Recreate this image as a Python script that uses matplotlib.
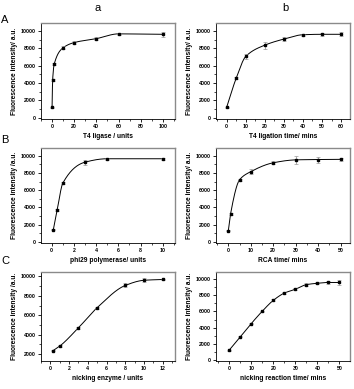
import numpy as np
import matplotlib
matplotlib.use('Agg')
import matplotlib.pyplot as plt
from matplotlib.ticker import AutoMinorLocator

plt.rcParams['font.family'] = ['Liberation Sans', 'DejaVu Sans']

# ---- data ----
# A-a: T4 ligase
lig_units = [0, 0.5, 2, 10, 20, 40, 60, 100]
lig_units_fl = [1200, 4300, 6200, 8050, 8650, 9100, 9650, 9600]
lig_units_err = [80, 100, 150, 150, 150, 150, 150, 300]
# A-b: T4 ligation time
lig_time = [0, 5, 10, 20, 30, 40, 50, 60]
lig_time_fl = [1200, 4550, 7050, 8350, 9050, 9550, 9600, 9600]
lig_time_err = [80, 150, 300, 400, 250, 100, 150, 250]
# B-a: phi29 polymerase
phi_units = [0.15, 0.5, 1, 3, 5, 10]
phi_units_fl = [1400, 3700, 6800, 9250, 9650, 9650]
phi_units_err = [80, 100, 120, 300, 120, 100]
# B-b: RCA time
rca_time = [0, 1, 5, 10, 20, 30, 40, 50]
rca_time_fl = [1300, 3250, 7200, 8150, 9180, 9520, 9560, 9580]
rca_time_err = [80, 100, 120, 250, 150, 450, 350, 150]
# C-a: nicking enzyme
nick_units = [0.25, 1, 3, 5, 8, 10, 12]
nick_units_fl = [2340, 2830, 4720, 6790, 9070, 9600, 9680]
nick_units_err = [60, 80, 80, 100, 200, 200, 100]
# C-b: nicking reaction time
nick_time = [0, 5, 10, 15, 20, 25, 30, 35, 40, 45, 50]
nick_time_fl = [1200, 2850, 4500, 6030, 7380, 8280, 8760, 9330, 9500, 9600, 9600]
nick_time_err = [60, 80, 80, 80, 120, 120, 150, 150, 150, 200, 300]

panels = [
    (lig_units, lig_units_fl, lig_units_err, 'T4 ligase / units', 'Fluorescence intensity/ a.u.',
     (-10, 111), (-150, 10900), [0, 20, 40, 60, 80, 100]),
    (lig_time, lig_time_fl, lig_time_err, 'T4 ligation time/ mins', 'Fluorescence intensity/ a.u.',
     (-5.6, 64.7), (-150, 10900), [0, 10, 20, 30, 40, 50, 60]),
    (phi_units, phi_units_fl, phi_units_err, 'phi29 polymerase/ units', 'Fluorescence intensity /a.u.',
     (-0.96, 11.1), (-150, 10900), [0, 2, 4, 6, 8, 10]),
    (rca_time, rca_time_fl, rca_time_err, 'RCA time/ mins', 'Fluorescence intensity/ a.u.',
     (-5.5, 54.2), (-150, 10900), [0, 10, 20, 30, 40, 50]),
    (nick_units, nick_units_fl, nick_units_err, 'nicking enzyme / units', 'Fluorescence intensity /a.u.',
     (-1.0, 13.3), (1300, 10450), [0, 2, 4, 6, 8, 10, 12]),
    (nick_time, nick_time_fl, nick_time_err, 'nicking reaction time/ mins', 'Fluorescence intensity/ a.u.',
     (-6, 54.8), (-150, 10900), [0, 10, 20, 30, 40, 50]),
]


def pchip(x, y, xs):
    # monotone cubic (Fritsch-Carlson) smooth line through the points
    x = np.asarray(x, float)
    y = np.asarray(y, float)
    h = np.diff(x)
    d = np.diff(y) / h
    m = np.zeros_like(y)
    for i in range(1, len(x) - 1):
        if d[i - 1] * d[i] > 0:
            w1 = 2 * h[i] + h[i - 1]
            w2 = h[i] + 2 * h[i - 1]
            m[i] = (w1 + w2) / (w1 / d[i - 1] + w2 / d[i])
    m[0] = d[0]
    m[-1] = d[-1] if d[-1] > 0 else 0
    idx = np.clip(np.searchsorted(x, xs) - 1, 0, len(h) - 1)
    t = (xs - x[idx]) / h[idx]
    h00 = 2 * t**3 - 3 * t**2 + 1
    h10 = t**3 - 2 * t**2 + t
    h01 = -2 * t**3 + 3 * t**2
    h11 = t**3 - t**2
    return h00 * y[idx] + h10 * h[idx] * m[idx] + h01 * y[idx + 1] + h11 * h[idx] * m[idx + 1]


fig = plt.figure(figsize=(3.54, 3.89), dpi=100)
lefts = [41 / 354, 216 / 354]
rows = [(119, 96), (243, 95), (361, 89)]  # (bottom px, height px)

for k, (x, y, e, xl, yl, xlim, ylim, xt) in enumerate(panels):
    r, c = divmod(k, 2)
    bot, hgt = rows[r]
    ax = fig.add_axes([lefts[c], 1 - bot / 389, 134 / 354, hgt / 389])
    xs = np.linspace(min(x), max(x), 300)
    ax.plot(xs, pchip(x, y, xs), color='black', lw=0.7, zorder=2)
    ax.errorbar(x, y, yerr=e, fmt='none', ecolor='#9a9a9a', elinewidth=0.6,
                capsize=1.2, capthick=0.5, zorder=3)
    ax.plot(x, y, 's', color='black', ms=2.0, zorder=4)
    ax.set_xlim(*xlim)
    ax.set_ylim(*ylim)
    ax.set_xticks(xt)
    ax.set_yticks(np.arange(0 if ylim[0] < 1000 else 2000, 10001, 2000))
    ax.xaxis.set_minor_locator(AutoMinorLocator(2))
    ax.yaxis.set_minor_locator(AutoMinorLocator(2))
    ax.tick_params(which='major', direction='out', length=2, width=0.6, labelsize=3.8, pad=1.5)
    ax.tick_params(which='minor', direction='out', length=1.2, width=0.5)
    for lab in ax.get_xticklabels() + ax.get_yticklabels():
        lab.set_fontweight('bold')
    for s in ['left', 'bottom']:
        ax.spines[s].set_color('black')
        ax.spines[s].set_linewidth(0.6)
    for s in ['top', 'right']:
        ax.spines[s].set_color('#8a8a8a')
        ax.spines[s].set_linewidth(1.0)
    ax.set_xlabel(xl, fontsize=4.8, fontweight='bold', labelpad=3)
    ax.set_ylabel(yl, fontsize=4.8, fontweight='bold', labelpad=2)

fig.text(98 / 354, 1 - 8 / 389, 'a', fontsize=8, ha='center', va='center')
fig.text(285 / 354, 1 - 8 / 389, 'b', fontsize=8, ha='center', va='center')
fig.text(5 / 354, 1 - 20 / 389, 'A', fontsize=8, ha='center', va='center')
fig.text(5 / 354, 1 - 140 / 389, 'B', fontsize=8, ha='center', va='center')
fig.text(5 / 354, 1 - 261 / 389, 'C', fontsize=8, ha='center', va='center')

fig.savefig('out.png', dpi=100)
